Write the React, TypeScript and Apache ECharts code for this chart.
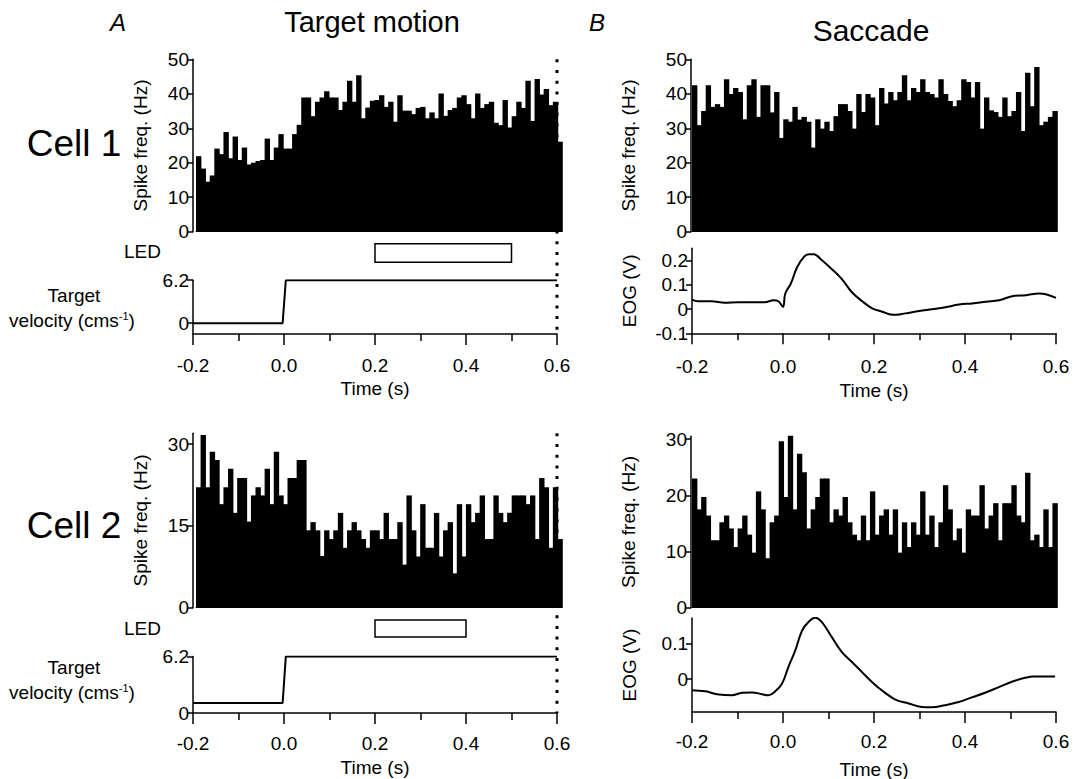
import React, { useEffect, useRef } from "react";
import * as echarts from "echarts";

const FONT = "'Liberation Sans', Arimo, Arial, sans-serif";
const BLACK = "#000";
const FS = 19;

// 10 ms bins from -0.2 to 0.6 s (bin start times)
const binStarts = Array.from({ length: 80 }, (_, i) => Math.round((-0.2 + i * 0.01) * 1000) / 1000);
const binWidth = 0.01;

const cell1TargetHist = [
  21.9, 18.3, 14.5, 16.3, 24.1, 22.5, 28.9, 21.3, 27.6, 20.8, 24.4, 19.5, 20, 20.5, 20.8, 27, 20.8, 24.4, 28.3, 24.1,
  24.1, 28.3, 31, 38.9, 38.9, 33.5, 37.7, 38.9, 40.7, 38.9, 38.9, 35.3, 37.7, 43.8, 37.7, 45.4, 32.9, 36, 38, 38.2,
  39.6, 36.2, 37.7, 31.9, 39.6, 35.1, 35.1, 34.1, 35.9, 36.2, 32.9, 34.6, 32.9, 40.1, 33.6, 35.3, 35.9, 38.9, 39.6, 37,
  32.9, 40.1, 35.9, 37, 37.7, 31.6, 30.9, 38.2, 30.2, 33.5, 37.7, 35.9, 43.8, 32.1, 44.3, 39.8, 41.4, 36.7, 37.7, 26.1,
];
const cell1SaccadeHist = [
  42.5, 30.9, 35, 42.5, 36.2, 37, 36.2, 44.2, 39.9, 41.7, 40.5, 32.6, 42.5, 44.2, 33.3, 42.5, 42.5, 34.6, 40.5, 27.2,
  32.6, 31.9, 36.2, 32.5, 33.3, 31.9, 24.4, 32.6, 29.9, 31.9, 29.2, 33.5, 37, 37, 35, 29.9, 39.9, 34.7, 39.9, 38.9,
  30.9, 41.7, 37.2, 40.5, 38.1, 40.5, 45.4, 38.1, 41.7, 40.5, 44.2, 40.5, 39.9, 38.9, 44.2, 39.9, 37.9, 36.4, 38.1, 44.2,
  43.4, 38.9, 43.4, 29.9, 38.9, 35.2, 34.7, 33.3, 38.9, 33.5, 35, 40.5, 29.2, 46.1, 36.4, 47.8, 30.9, 31.9, 33.3, 35,
];
const cell2TargetHist = [
  22.1, 31.7, 22.1, 28.6, 27.1, 19, 22.1, 25.5, 17.4, 23.8, 23.8, 15.8, 20.6, 22.1, 20.6, 25.5, 19, 28.6, 20.6, 19,
  23.8, 23.8, 27.1, 27.1, 14.2, 15.7, 14.2, 9.5, 14.2, 12.6, 14.2, 17.4, 11, 14.2, 15.7, 14.2, 12.6, 11, 14.2,
  14.2, 12.6, 17.4, 12.6, 12.6, 15.7, 7.9, 20.6, 14.2, 9.4, 19, 11, 11, 17.4, 9.4, 14.2, 15.7, 6.3, 19, 9.4, 19,
  15.7, 17.4, 20.6, 12.6, 12.6, 20.6, 17.4, 15.7, 17.4, 20.6, 20.6, 20.6, 19, 20.6, 12.6, 23.8, 22.1, 11, 22.1, 12.6,
];
const cell2SaccadeHist = [
  23, 17.5, 19.7, 16.4, 12, 12, 15.2, 16.4, 14.1, 10.8, 14.1, 16.4, 13, 9.8, 20.7, 17.5, 8.8, 15.2, 16.4, 29.6,
  19.7, 30.6, 17.5, 27.4, 24.1, 14.1, 17.5, 19.7, 23, 23, 15.2, 17.5, 16.4, 19.7, 15.2, 13, 12, 16.4, 12, 20.7,
  13, 16.4, 17.5, 13, 17.5, 9.8, 15.2, 10.8, 15.2, 13, 20.7, 13, 16.4, 10.8, 15.2, 21.8, 17.5, 12, 14.1, 9.8,
  17.5, 16.4, 16.4, 21.8, 14.1, 16.4, 18.6, 12, 18.6, 18.6, 21.8, 16.4, 15.2, 24, 12, 13, 10.8, 17.5, 10.8, 18.6,
];

// Target velocity step (cm/s)
const velTime = [-0.2, -0.003, 0.004, 0.6];
const cell1Velocity = [0, 0, 6.2, 6.2];
const cell2Velocity = [1.1, 1.1, 6.2, 6.2];

// LED on/off (s)
const cell1Led = [0.2, 0.5];
const cell2Led = [0.2, 0.4];

// EOG traces (V)
const eog1Time = [-0.2, -0.187, -0.157, -0.128, -0.099, -0.069, -0.04, -0.021, -0.01, 0.0, 0.005, 0.017, 0.031, 0.046, 0.057, 0.068, 0.083, 0.107, 0.129, 0.151, 0.174, 0.196, 0.218, 0.243, 0.269, 0.299, 0.328, 0.357, 0.387, 0.416, 0.446, 0.475, 0.504, 0.534, 0.563, 0.6];
const eog1Value = [0.039, 0.032, 0.032, 0.026, 0.028, 0.028, 0.028, 0.036, 0.032, 0.009, 0.064, 0.104, 0.172, 0.215, 0.226, 0.226, 0.205, 0.165, 0.124, 0.07, 0.032, 0.003, -0.011, -0.024, -0.018, -0.008, -0.001, 0.007, 0.019, 0.023, 0.03, 0.036, 0.053, 0.057, 0.064, 0.046];
const eog2Time = [-0.2, -0.171, -0.141, -0.112, -0.09, -0.068, -0.046, -0.032, -0.017, -0.002, 0.012, 0.027, 0.042, 0.056, 0.071, 0.085, 0.107, 0.129, 0.151, 0.173, 0.195, 0.217, 0.247, 0.276, 0.305, 0.327, 0.356, 0.386, 0.415, 0.444, 0.473, 0.503, 0.532, 0.55, 0.598];
const eog2Value = [-0.031, -0.034, -0.043, -0.045, -0.038, -0.037, -0.042, -0.045, -0.034, -0.012, 0.035, 0.081, 0.137, 0.161, 0.173, 0.161, 0.119, 0.077, 0.049, 0.021, -0.007, -0.031, -0.057, -0.068, -0.078, -0.079, -0.073, -0.064, -0.051, -0.038, -0.023, -0.007, 0.004, 0.008, 0.008];

const cell1HistTicks = [0, 10, 20, 30, 40, 50];
const cell2TargetTicks = [0, 15, 30];
const cell2SaccadeTicks = [0, 10, 20, 30];
const eog1Ticks = [-0.1, 0, 0.1, 0.2];
const eog2Ticks = [0, 0.1];
const velTicks = [0, 6.2];

const lineStyle = { color: BLACK, width: 1.5 };
const labelStyle = { color: BLACK, fontSize: FS, fontFamily: FONT };

function histX(gridIndex: number) {
  return {
    type: "value", gridIndex, min: -0.2, max: 0.6,
    axisLine: { show: true, onZero: false, lineStyle: { color: BLACK, width: 1 } },
    axisTick: { show: false }, axisLabel: { show: false }, splitLine: { show: false },
  };
}
function histY(gridIndex: number, max: number, ticks: number[], offset: number, nameGap: number) {
  return {
    type: "value", gridIndex, min: 0, max, offset,
    axisLine: { show: true, onZero: false, lineStyle },
    axisTick: { show: true, length: 6, inside: false, customValues: ticks, lineStyle },
    axisLabel: { ...labelStyle, margin: 4, customValues: ticks },
    splitLine: { show: false },
    name: "Spike freq. (Hz)", nameLocation: "middle", nameRotate: 90, nameGap,
    nameTextStyle: labelStyle,
  };
}
function timeX(gridIndex: number, margin: number, nameGap: number) {
  return {
    type: "value", gridIndex, min: -0.2, max: 0.6, interval: 0.2,
    axisLine: { show: true, onZero: false, lineStyle },
    axisTick: { show: true, length: 11, lineStyle },
    minorTick: { show: true, splitNumber: 2, length: 7, lineStyle },
    axisLabel: { ...labelStyle, margin, formatter: (v: number) => (Math.abs(v) < 1e-9 ? 0 : v).toFixed(1) },
    splitLine: { show: false }, minorSplitLine: { show: false },
    name: "Time (s)", nameLocation: "middle", nameGap, nameTextStyle: labelStyle,
  };
}
function valueY(gridIndex: number, min: number, max: number, ticks: number[], name: string, nameGap: number, fmt?: (v: number) => string) {
  return {
    type: "value", gridIndex, min, max,
    axisLine: { show: true, onZero: false, lineStyle },
    axisTick: { show: true, length: 6, customValues: ticks, lineStyle },
    axisLabel: { ...labelStyle, margin: 4, customValues: ticks, formatter: fmt },
    splitLine: { show: false },
    name, nameLocation: "middle", nameRotate: 90, nameGap, nameTextStyle: labelStyle,
  };
}
function hiddenX(gridIndex: number) {
  return { type: "value", gridIndex, min: -0.2, max: 0.6, show: false, splitLine: { show: false } };
}
function hiddenY(gridIndex: number) {
  return { type: "value", gridIndex, min: 0, max: 1, show: false, splitLine: { show: false } };
}

function histSeries(idx: number, values: number[]) {
  return {
    type: "custom", xAxisIndex: idx, yAxisIndex: idx, silent: true, clip: false,
    data: values.map((v, i) => [binStarts[i], v]),
    encode: { x: 0, y: 1 },
    renderItem: (_p: any, api: any) => {
      const t0 = api.value(0);
      const top = api.coord([t0, api.value(1)]);
      const base = api.coord([t0 + binWidth, 0]);
      return {
        type: "rect",
        shape: { x: top[0], y: top[1], width: base[0] - top[0] + 0.8, height: base[1] - top[1] },
        style: { fill: BLACK },
      };
    },
  };
}
function ledSeries(idx: number, led: number[]) {
  return {
    type: "custom", xAxisIndex: idx, yAxisIndex: idx, data: [[led[0], led[1]]],
    encode: { x: [0, 1] },
    renderItem: (_p: any, api: any) => {
      const a = api.coord([api.value(0), 1]);
      const b = api.coord([api.value(1), 0]);
      return {
        type: "rect",
        shape: { x: a[0], y: a[1], width: b[0] - a[0], height: b[1] - a[1] },
        style: { fill: "#fff", stroke: BLACK, lineWidth: 1.5 },
      };
    },
  };
}
function traceSeries(idx: number, t: number[], v: number[], smooth: number | boolean) {
  return {
    type: "line", xAxisIndex: idx, yAxisIndex: idx,
    data: t.map((x, i) => [x, v[i]]),
    showSymbol: false, smooth,
    lineStyle: { color: BLACK, width: 2 },
  };
}

function txt(id: string, x: number, y: number, text: string, fontSize: number, extra: any = {}) {
  return {
    type: "text", id, x, y, silent: true,
    style: { text, fontSize, fontFamily: FONT, fill: BLACK, align: "center", verticalAlign: "middle", ...extra },
  };
}
const supRich = { rich: { sup: { fontSize: 11, fontFamily: FONT, fill: BLACK, verticalAlign: "top", padding: [0, 0, 9, 0] } } };

export default function App() {
  const ref = useRef<HTMLDivElement>(null);
  useEffect(() => {
    if (!ref.current) return;
    const chart = echarts.init(ref.current, undefined, { renderer: "svg" });
    const grids = [
      { left: 196, top: 59.3, width: 366, height: 172.4 }, // 0 A1 hist
      { left: 193, top: 243.7, width: 364, height: 18.6 }, // 1 A1 LED
      { left: 193, top: 280.2, width: 364, height: 53.8 }, // 2 A1 velocity
      { left: 692, top: 59.3, width: 365, height: 172.4 }, // 3 B1 hist
      { left: 692, top: 248.3, width: 364, height: 85 }, // 4 B1 EOG
      { left: 196, top: 433.3, width: 366, height: 174.4 }, // 5 A2 hist
      { left: 193, top: 620, width: 364, height: 17 }, // 6 A2 LED
      { left: 193, top: 656.4, width: 364, height: 56.6 }, // 7 A2 velocity
      { left: 692, top: 436.3, width: 365, height: 171.4 }, // 8 B2 hist
      { left: 692, top: 618, width: 364, height: 94 }, // 9 B2 EOG
    ].map((g) => ({ ...g, outerBoundsMode: "none", containLabel: false }));

    const velFmt = (v: number) => (v === 0 ? "0" : String(v));
    const eogFmt = (v: number) => (Math.abs(v) < 1e-9 ? "0" : String(Math.round(v * 10) / 10));

    const option: any = {
      animation: false,
      backgroundColor: "#fff",
      grid: grids,
      xAxis: [
        histX(0), hiddenX(1), timeX(2, 22, 45),
        histX(3), timeX(4, 24, 48),
        histX(5), hiddenX(6), timeX(7, 21, 45),
        histX(8), timeX(9, 20, 48),
      ],
      yAxis: [
        histY(0, 50, cell1HistTicks, 3, 43),
        hiddenY(1),
        valueY(2, -1.55, 6.2, velTicks, "", 0, velFmt),
        histY(3, 50, cell1HistTicks, 1, 53),
        valueY(4, -0.1, 0.25, eog1Ticks, "EOG (V)", 53, eogFmt),
        histY(5, 32, cell2TargetTicks, 3, 43),
        hiddenY(6),
        valueY(7, 0, 6.2, velTicks, "", 0, velFmt),
        histY(8, 30.5, cell2SaccadeTicks, 1, 53),
        valueY(9, -0.092, 0.172, eog2Ticks, "EOG (V)", 53, eogFmt),
      ],
      series: [
        histSeries(0, cell1TargetHist),
        ledSeries(1, cell1Led),
        traceSeries(2, velTime, cell1Velocity, false),
        histSeries(3, cell1SaccadeHist),
        traceSeries(4, eog1Time, eog1Value, 0.4),
        histSeries(5, cell2TargetHist),
        ledSeries(6, cell2Led),
        traceSeries(7, velTime, cell2Velocity, false),
        histSeries(8, cell2SaccadeHist),
        traceSeries(9, eog2Time, eog2Value, 0.4),
      ],
      graphic: [
        txt("A", 118, 22, "A", 24, { fontStyle: "italic" }),
        txt("titleA", 372, 22, "Target motion", 29),
        txt("B", 597, 22, "B", 24, { fontStyle: "italic" }),
        txt("titleB", 871, 30, "Saccade", 30),
        txt("cell1", 74, 143, "Cell 1", 37),
        txt("cell2", 74, 525, "Cell 2", 37),
        txt("led1", 161, 251, "LED", FS, { align: "right" }),
        txt("led2", 161, 628, "LED", FS, { align: "right" }),
        txt("tv1a", 74, 295, "Target", FS),
        txt("tv1b", 72, 320, "velocity (cms{sup|-1})", FS, supRich),
        txt("tv2a", 74, 667, "Target", FS),
        txt("tv2b", 72, 692, "velocity (cms{sup|-1})", FS, supRich),
      ],
    };
    chart.setOption(option);

    // dotted vertical line at the end of the target-motion epoch (0.6 s)
    const dotted = (id: string, topAxis: number, topVal: number, botAxis: number, botVal: number) => {
      const x = chart.convertToPixel({ xAxisIndex: botAxis }, 0.6) as number;
      const y1 = chart.convertToPixel({ yAxisIndex: topAxis }, topVal) as number;
      const y2 = chart.convertToPixel({ yAxisIndex: botAxis }, botVal) as number;
      return {
        type: "line", id, silent: true, z: 100,
        shape: { x1: x, y1, x2: x, y2 },
        style: { stroke: BLACK, lineWidth: 3, lineDash: [3, 7.7] },
      };
    };
    chart.setOption({
      graphic: [dotted("dot1", 0, 50, 2, -1.55), dotted("dot2", 5, 32, 7, 0)],
    });

    return () => chart.dispose();
  }, []);
  return <div ref={ref} style={{ position: "fixed", left: 0, top: 0, width: 1073, height: 779 }} />;
}
